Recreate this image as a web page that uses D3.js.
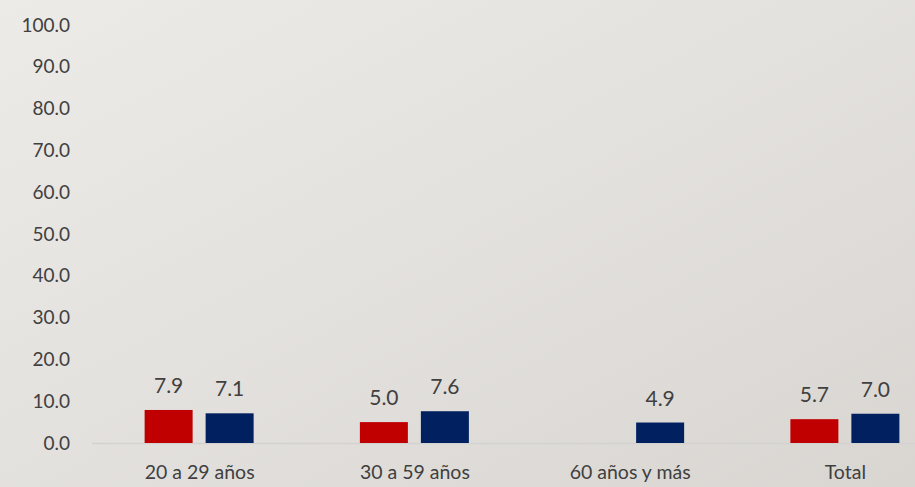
<!DOCTYPE html>
<html>
<head>
<meta charset="utf-8">
<script src="https://cdn.jsdelivr.net/npm/d3@7"></script>
<style>
  html, body { margin: 0; padding: 0; }
  body { width: 915px; height: 487px; overflow: hidden; }
  svg { display: block; }
</style>
</head>
<body>
<svg id="chart"></svg>
<script>
// data
const categories = ["20 a 29 años", "30 a 59 años", "60 años y más", "Total"];
const seriesRed = [7.9, 5.0, null, 5.7];
const seriesBlue = [7.1, 7.6, 4.9, 7.0];
const yTicks = [0, 10, 20, 30, 40, 50, 60, 70, 80, 90, 100];

const width = 915, height = 487;
const fontFamily = "'Gill Sans', 'Gill Sans MT', Lato, sans-serif";
const textColor = "#404040";

const svg = d3.select("#chart")
    .attr("width", width)
    .attr("height", height);

// background gradient
const defs = svg.append("defs");
const grad = defs.append("linearGradient")
    .attr("id", "bg")
    .attr("x1", "0%").attr("y1", "0%")
    .attr("x2", "100%").attr("y2", "100%");
grad.append("stop").attr("offset", "0%").attr("stop-color", "#edebe8");
grad.append("stop").attr("offset", "100%").attr("stop-color", "#d9d6d2");
svg.append("rect")
    .attr("width", width).attr("height", height)
    .attr("fill", "url(#bg)");

// scales
const y = d3.scaleLinear().domain([0, 100]).range([443, 25]);
const x = d3.scaleBand().domain(categories).range([92, 953]).padding(0);

const barWidth = 48;
const offsets = { red: -55, blue: 6 };

// y axis labels
const yAxis = d3.axisLeft(y)
    .tickValues(yTicks)
    .tickFormat(d3.format(".1f"))
    .tickSize(0)
    .tickPadding(0);
const gy = svg.append("g")
    .attr("transform", "translate(70,0)")
    .call(yAxis);
gy.select(".domain").remove();
gy.selectAll("text")
    .attr("fill", textColor)
    .style("font-family", fontFamily)
    .style("font-size", "19px");

// baseline
svg.append("line")
    .attr("x1", 92).attr("x2", width)
    .attr("y1", y(0) + 0.5).attr("y2", y(0) + 0.5)
    .attr("stroke", "#d3d2d0")
    .attr("stroke-width", 1.5);

// bars
const series = [
    { key: "red", values: seriesRed, color: "#c00000" },
    { key: "blue", values: seriesBlue, color: "#002060" }
];

series.forEach(s => {
    const data = categories.map((c, i) => ({ cat: c, v: s.values[i] }))
        .filter(d => d.v !== null);
    const g = svg.append("g");
    g.selectAll("rect")
        .data(data)
        .enter()
        .append("rect")
        .attr("x", d => x(d.cat) + x.bandwidth() / 2 + offsets[s.key])
        .attr("y", d => y(d.v))
        .attr("width", barWidth)
        .attr("height", d => y(0) - y(d.v))
        .attr("fill", s.color);
    g.selectAll("text")
        .data(data)
        .enter()
        .append("text")
        .attr("x", d => x(d.cat) + x.bandwidth() / 2 + offsets[s.key] + barWidth / 2)
        .attr("y", d => y(d.v) - 17)
        .attr("text-anchor", "middle")
        .attr("fill", textColor)
        .style("font-family", fontFamily)
        .style("font-size", "21px")
        .text(d => d3.format(".1f")(d.v));
});

// category labels
svg.append("g")
    .selectAll("text")
    .data(categories)
    .enter()
    .append("text")
    .attr("x", d => x(d) + x.bandwidth() / 2)
    .attr("y", 479)
    .attr("text-anchor", "middle")
    .attr("fill", textColor)
    .style("font-family", fontFamily)
    .style("font-size", "19.5px")
    .text(d => d);
</script>
</body>
</html>
